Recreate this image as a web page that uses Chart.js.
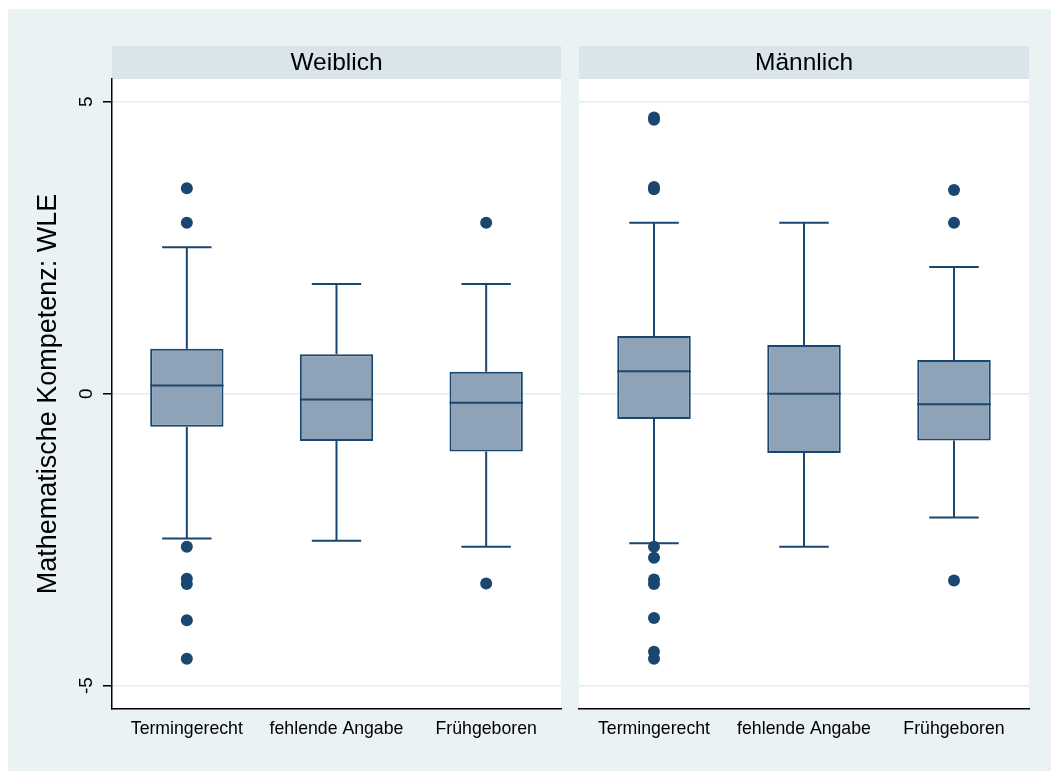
<!DOCTYPE html>
<html>
<head>
<meta charset="utf-8">
<title>Mathematische Kompetenz nach Geburtszeitpunkt</title>
<script src="https://cdn.jsdelivr.net/npm/chart.js@4.4.1/dist/chart.umd.min.js"></script>
<style>
  html, body { margin: 0; padding: 0; background: #ffffff; }
  #frame { position: absolute; left: 8px; top: 9px; width: 1043px; height: 762px; background: #eaf2f3; }
  #c1 { position: absolute; left: 0; top: 0; }
  #c2 { position: absolute; left: 573px; top: 0; }
</style>
</head>
<body>
<div id="frame"></div>
<canvas id="c1" width="567" height="771" style="width:567px;height:771px"></canvas>
<canvas id="c2" width="462" height="771" style="width:462px;height:771px"></canvas>
<script>
// Categories and panel titles
const categories = ['Termingerecht', 'fehlende Angabe', 'Frühgeboren'];
const panelTitles = ['Weiblich', 'Männlich'];
const yAxisTitle = 'Mathematische Kompetenz: WLE';

// Axis ticks
const yTickValues = [-5, 0, 5];
const yTickLabels = ['-5', '0', '5'];

// Weiblich: box statistics per category
const weiblichLow    = [-2.48, -2.52, -2.62];
const weiblichQ1     = [-0.565, -0.81, -0.99];
const weiblichMedian = [0.14, -0.10, -0.155];
const weiblichQ3     = [0.77, 0.675, 0.377];
const weiblichHigh   = [2.51, 1.88, 1.88];
const weiblichOutliers = [
  [3.52, 2.93, -2.62, -3.17, -3.26, -3.88, -4.54],
  [],
  [2.93, -3.25]
];

// Männlich: box statistics per category
const maennlichLow    = [-2.56, -2.62, -2.12];
const maennlichQ1     = [-0.433, -1.015, -0.80];
const maennlichMedian = [0.383, 0.0, -0.18];
const maennlichQ3     = [0.988, 0.834, 0.577];
const maennlichHigh   = [2.93, 2.93, 2.17];
const maennlichOutliers = [
  [4.73, 4.69, 3.54, 3.50, -2.62, -2.81, -3.18, -3.26, -3.84, -4.42, -4.54],
  [],
  [3.49, 2.93, -3.20]
];

const NAVY = '#1a476f';
const BOX_FILL = '#8ea3b7';
const GRID = '#e4ecef';
const HEADER = '#d9e5ea';
const FONT = "'Liberation Sans', Arial, Helvetica, sans-serif";

// White plot region plus the shaded header strip with the panel title
const panelBackground = {
  id: 'panelBackground',
  beforeDraw(chart, args, opts) {
    const { ctx, chartArea: a } = chart;
    ctx.save();
    ctx.fillStyle = '#ffffff';
    ctx.fillRect(a.left, a.top, a.right - a.left, a.bottom - a.top);
    ctx.fillStyle = HEADER;
    ctx.fillRect(a.left, 46, a.right - a.left, 33);
    ctx.fillStyle = '#000';
    ctx.font = '24.5px ' + FONT;
    ctx.textAlign = 'center';
    ctx.textBaseline = 'alphabetic';
    ctx.fillText(opts.title, (a.left + a.right) / 2, 69.5);
    ctx.restore();
  }
};

// Whiskers with caps (behind the points) and median lines (over the boxes)
const boxPlotLines = {
  id: 'boxPlotLines',
  beforeDatasetsDraw(chart, args, opts) {
    const { ctx } = chart;
    const x = chart.scales.x, y = chart.scales.y;
    const catW = x.width / categories.length;
    const cap = catW * 0.33 / 2;
    ctx.save();
    ctx.strokeStyle = NAVY;
    ctx.lineWidth = 2;
    categories.forEach((c, i) => {
      const px = x.getPixelForValue(i);
      const segs = [[opts.q3[i], opts.high[i]], [opts.q1[i], opts.low[i]]];
      segs.forEach(([from, to]) => {
        const py0 = y.getPixelForValue(from), py1 = y.getPixelForValue(to);
        ctx.beginPath();
        ctx.moveTo(px, py0);
        ctx.lineTo(px, py1);
        ctx.moveTo(px - cap, py1);
        ctx.lineTo(px + cap, py1);
        ctx.stroke();
      });
    });
    ctx.restore();
  },
  afterDatasetsDraw(chart, args, opts) {
    const { ctx } = chart;
    const y = chart.scales.y;
    const boxes = chart.getDatasetMeta(0).data;
    ctx.save();
    ctx.strokeStyle = NAVY;
    ctx.lineWidth = 2;
    boxes.forEach((bar, i) => {
      const py = y.getPixelForValue(opts.median[i]);
      ctx.beginPath();
      ctx.moveTo(bar.x - bar.width / 2, py);
      ctx.lineTo(bar.x + bar.width / 2, py);
      ctx.stroke();
    });
    ctx.restore();
  }
};

// Vertical (rotated) y tick labels
const rotatedYTicks = {
  id: 'rotatedYTicks',
  afterDraw(chart, args, opts) {
    if (!opts.show) return;
    const { ctx } = chart;
    const y = chart.scales.y;
    ctx.save();
    ctx.fillStyle = '#000';
    ctx.font = '19px ' + FONT;
    ctx.textAlign = 'center';
    ctx.textBaseline = 'alphabetic';
    yTickValues.forEach((v, i) => {
      ctx.save();
      ctx.translate(92, y.getPixelForValue(v));
      ctx.rotate(-Math.PI / 2);
      ctx.fillText(yTickLabels[i], 0, 0);
      ctx.restore();
    });
    ctx.restore();
  }
};

function makePanel(canvasId, title, low, q1, median, q3, high, outliers, isLeft) {
  const points = [];
  outliers.forEach((vals, i) => vals.forEach(v => points.push({ x: categories[i], y: v })));
  return new Chart(document.getElementById(canvasId), {
    data: {
      labels: categories,
      datasets: [
        {
          type: 'bar',
          data: q1.map((v, i) => [v, q3[i]]),
          backgroundColor: BOX_FILL,
          borderColor: NAVY,
          borderWidth: 2,
          borderSkipped: false,
          barPercentage: 0.49,
          categoryPercentage: 1,
          grouped: false,
          order: 2
        },
        {
          type: 'line',
          data: points,
          showLine: false,
          pointRadius: 6,
          pointBackgroundColor: NAVY,
          pointBorderWidth: 0,
          order: 1
        }
      ]
    },
    options: {
      responsive: false,
      animation: false,
      events: [],
      layout: { padding: { top: 79, left: 0, right: 0, bottom: 0 } },
      plugins: {
        legend: { display: false },
        tooltip: { enabled: false },
        panelBackground: { title: title },
        boxPlotLines: { low: low, q1: q1, median: median, q3: q3, high: high },
        rotatedYTicks: { show: isLeft }
      },
      scales: {
        x: {
          type: 'category',
          offset: true,
          afterFit(scale) { scale.height = 62; },
          grid: { display: false, drawTicks: false },
          border: { display: true, color: '#000', width: 1.5 },
          ticks: { color: '#000', font: { family: FONT, size: 17.7 }, padding: 9, maxRotation: 0, autoSkip: false }
        },
        y: {
          type: 'linear',
          min: -5.4,
          max: 5.39,
          afterBuildTicks(scale) { scale.ticks = yTickValues.map(v => ({ value: v })); },
          afterFit(scale) { scale.width = isLeft ? 112 : 0; },
          grid: {
            color: GRID,
            lineWidth: 1.5,
            drawTicks: isLeft,
            tickLength: 9,
            tickColor: '#000',
            tickWidth: 1.5
          },
          border: { display: isLeft, color: '#000', width: 1.5 },
          ticks: { display: false },
          title: {
            display: isLeft,
            text: yAxisTitle,
            color: '#000',
            font: { family: FONT, size: 27 },
            padding: { top: 32, bottom: 0 }
          }
        }
      }
    },
    plugins: [panelBackground, boxPlotLines, rotatedYTicks]
  });
}

makePanel('c1', panelTitles[0], weiblichLow, weiblichQ1, weiblichMedian, weiblichQ3, weiblichHigh, weiblichOutliers, true);
makePanel('c2', panelTitles[1], maennlichLow, maennlichQ1, maennlichMedian, maennlichQ3, maennlichHigh, maennlichOutliers, false);
</script>
</body>
</html>
